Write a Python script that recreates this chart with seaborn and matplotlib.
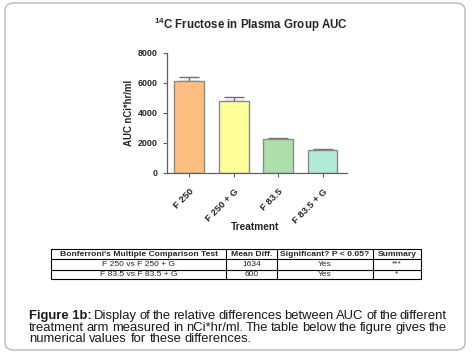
import matplotlib
matplotlib.use("Agg")
import matplotlib.pyplot as plt
import seaborn as sns
import pandas as pd
from matplotlib.patches import FancyBboxPatch

# ---- data ----
treatments = ["F 250", "F 250 + G", "F 83.5", "F 83.5 + G"]
auc_mean = [6130, 4780, 2260, 1560]
auc_sem = [300, 270, 70, 50]
bar_colors = ["#FFBF80", "#FFFF99", "#ACDFAC", "#B3EBD8"]
y_ticks = [0, 2000, 4000, 6000, 8000]

table_header = ["Bonferroni's Multiple Comparison Test", "Mean Diff.",
                "Significant? P < 0.05?", "Summary"]
table_rows = [["F 250 vs F 250 + G", "1634", "Yes", "***"],
              ["F 83.5 vs F 83.5 + G", "600", "Yes", "*"]]

caption_bold = "Figure 1b:"
caption_lines = [
    "Display of the relative differences between AUC of the different",
    "treatment arm measured in nCi*hr/ml. The table below the figure gives the",
    "numerical values for these differences.",
]

sns.set_theme(style="white")
plt.rcParams["font.family"] = ["Liberation Sans", "DejaVu Sans"]
plt.rcParams["mathtext.fontset"] = "custom"
plt.rcParams["mathtext.rm"] = "Liberation Sans"
plt.rcParams["mathtext.bf"] = "Liberation Sans:bold"

W, H = 474, 356
fig = plt.figure(figsize=(W / 100, H / 100), dpi=100)
fig.patch.set_facecolor("white")

def fx(px):
    return px / W

def fy(py):
    return 1 - py / H

# outer rounded box
box = FancyBboxPatch((fx(5), fy(350)), fx(465) - fx(5), fy(3) - fy(350),
                     boxstyle="round,pad=0,rounding_size=0.02",
                     transform=fig.transFigure, facecolor="none",
                     edgecolor="#B8B8B8", linewidth=1.0, zorder=0)
fig.patches.append(box)

ax = fig.add_axes([fx(167), fy(173), fx(347) - fx(167), fy(53) - fy(173)])
df = pd.DataFrame({"Treatment": treatments, "AUC": auc_mean})
sns.barplot(data=df, x="Treatment", y="AUC", hue="Treatment",
            palette=bar_colors, order=treatments, hue_order=treatments,
            edgecolor="#8A8A8A", linewidth=1.0, width=0.67, legend=False,
            saturation=1, errorbar=None, ax=ax, zorder=2)
ax.errorbar(range(len(treatments)), auc_mean,
            yerr=[[0] * len(auc_sem), auc_sem], fmt="none",
            ecolor="#707070", elinewidth=1.0, capsize=7, capthick=1.0, zorder=1)

ax.set_ylim(0, 8000)
ax.set_xlim(-0.5, 3.55)
ax.set_yticks(y_ticks)
ax.set_yticklabels([str(t) for t in y_ticks], fontsize=6.4, fontweight="bold")
ax.set_xticks(range(len(treatments)))
ax.set_xticklabels(treatments, rotation=45, ha="right", rotation_mode="anchor",
                   fontsize=6.8, fontweight="bold")
ax.tick_params(axis="both", which="both", direction="out", length=3,
               width=0.8, color="#606060", bottom=True, left=True)
ax.tick_params(axis="y", pad=4)
ax.tick_params(axis="x", pad=7)
for s in ["top", "right"]:
    ax.spines[s].set_visible(False)
for s in ["left", "bottom"]:
    ax.spines[s].set_color("#606060")
    ax.spines[s].set_linewidth(0.9)
ax.set_ylabel("AUC nCi*hr/ml", fontsize=6.9, fontweight="bold")
ax.yaxis.set_label_coords((134 - 167) / (347 - 167), 0.5)
ax.set_xlabel("Treatment", fontsize=7.3, fontweight="bold")
ax.xaxis.set_label_coords((255 - 167) / (347 - 167), -(222 - 173) / (173 - 53))
ax.set_facecolor("white")

fig.text(fx(251), fy(25), r"$^{\mathbf{14}}$C Fructose in Plasma Group AUC",
         ha="center", va="center", fontsize=8.3, fontweight="bold")

# table
col_edges = [51, 226, 277, 373, 421]
row_edges = [249, 259, 269.5, 279]
for x in col_edges:
    fig.add_artist(plt.Line2D([fx(x), fx(x)], [fy(row_edges[0]), fy(row_edges[-1])],
                              transform=fig.transFigure, color="black", lw=0.8))
for y in row_edges:
    fig.add_artist(plt.Line2D([fx(col_edges[0]), fx(col_edges[-1])], [fy(y), fy(y)],
                              transform=fig.transFigure, color="black", lw=0.8))
all_rows = [table_header] + table_rows
for r, row in enumerate(all_rows):
    yc = (row_edges[r] + row_edges[r + 1]) / 2
    for c, txt in enumerate(row):
        xc = (col_edges[c] + col_edges[c + 1]) / 2
        fig.text(fx(xc), fy(yc), txt, ha="center", va="center",
                 fontsize=6.1, fontweight="bold" if r == 0 else "normal")

# caption with justification
fig.canvas.draw()
renderer = fig.canvas.get_renderer()
cap_fs = 9.4
left_px, right_px = 29, 447
line_y = [316, 328, 339.5]

def width_px(s, weight="normal"):
    t = fig.text(0, 0, s, fontsize=cap_fs, fontweight=weight)
    w = t.get_window_extent(renderer).width
    t.remove()
    return w

for i, line in enumerate(caption_lines):
    words = line.split(" ")
    items = []
    if i == 0:
        items.append((caption_bold, "bold"))
    items += [(w, "normal") for w in words]
    widths = [width_px(s, wt) for s, wt in items]
    justify = i < len(caption_lines) - 1
    if justify and len(items) > 1:
        gap = (right_px - left_px - sum(widths)) / (len(items) - 1)
    else:
        gap = width_px("a b") - width_px("ab")
    x = left_px
    for (s, wt), w in zip(items, widths):
        fig.text(fx(x), fy(line_y[i]), s, ha="left", va="center",
                 fontsize=cap_fs, fontweight=wt, color="#1a1a1a")
        x += w + gap

fig.savefig("out.png", dpi=100, facecolor="white")
